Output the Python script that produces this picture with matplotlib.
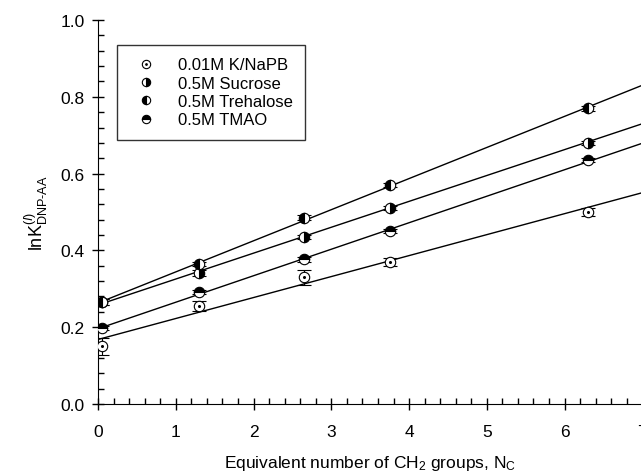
import numpy as np
import matplotlib
matplotlib.use("Agg")
import matplotlib.pyplot as plt
from matplotlib.ticker import MultipleLocator

plt.rcParams["font.family"] = ["Liberation Sans", "DejaVu Sans"]
plt.rcParams["mathtext.fontset"] = "custom"
plt.rcParams["mathtext.rm"] = "Liberation Sans"
plt.rcParams["mathtext.it"] = "Liberation Sans:italic"

# equivalent number of CH2 groups
nc = [0.05, 1.3, 2.65, 3.75, 6.3]

labels = ["0.01M K/NaPB", "0.5M Sucrose", "0.5M Trehalose", "0.5M TMAO"]
y_buffer = [0.150, 0.255, 0.330, 0.370, 0.500]
y_sucrose = [0.265, 0.340, 0.435, 0.510, 0.680]
y_trehalose = [0.265, 0.365, 0.485, 0.570, 0.770]
y_tmao = [0.198, 0.292, 0.377, 0.450, 0.635]

err_buffer = [0.022, 0.012, 0.020, 0.010, 0.010]
err_sucrose = [0.008, 0.008, 0.006, 0.006, 0.006]
err_trehalose = [0.008, 0.006, 0.006, 0.006, 0.006]
err_tmao = [0.006, 0.006, 0.006, 0.006, 0.006]

# fitted lines (intercept, slope)
fit_intercept = [0.168, 0.258, 0.263, 0.196]
fit_slope = [0.0546, 0.0674, 0.0810, 0.0690]

ys = [y_buffer, y_sucrose, y_trehalose, y_tmao]
errs = [err_buffer, err_sucrose, err_trehalose, err_tmao]
fills = ["none", "right", "left", "top"]

fig = plt.figure(figsize=(6.41, 4.77), dpi=100)
ax = fig.add_axes([0.153, 0.151, 0.849, 0.805])

xfit = np.linspace(0, 7, 50)
handles = []
for i in range(4):
    ax.plot(xfit, fit_intercept[i] + fit_slope[i] * xfit, color="black", lw=1.0, zorder=2)
    ax.errorbar(nc, ys[i], yerr=errs[i], fmt="none", ecolor="black", elinewidth=0.8,
                capsize=5, capthick=0.8, zorder=3)
    h, = ax.plot(nc, ys[i], ls="none", marker="o", ms=7.5, mec="black", mew=0.8,
                 mfc="black" if fills[i] != "none" else "white",
                 markerfacecoloralt="white", fillstyle=fills[i] if fills[i] != "none" else "full",
                 zorder=4)
    if fills[i] == "none":
        d, = ax.plot(nc, ys[i], ls="none", marker="o", ms=1.2, color="black", zorder=5)
        handles.append((h, d))
    else:
        handles.append(h)

ax.set_xlim(0, 7)
ax.set_ylim(0, 1.0)
ax.xaxis.set_major_locator(MultipleLocator(1))
ax.xaxis.set_minor_locator(MultipleLocator(0.2))
ax.yaxis.set_major_locator(MultipleLocator(0.2))
ax.yaxis.set_minor_locator(MultipleLocator(0.04))
ax.xaxis.set_major_formatter(matplotlib.ticker.FormatStrFormatter("%d"))
ax.yaxis.set_major_formatter(matplotlib.ticker.FormatStrFormatter("%.1f"))
ax.tick_params(which="major", direction="inout", length=9, width=1, labelsize=12.5)
ax.tick_params(axis="x", which="major", pad=10)
ax.tick_params(axis="y", which="major", pad=5)
ax.tick_params(which="minor", direction="in", length=4, width=1)
ax.tick_params(top=False, right=False, which="both")
for s in ["top", "right"]:
    ax.spines[s].set_visible(False)

ax.set_xlabel(r"Equivalent number of CH$_2$ groups, N$_\mathrm{C}$", fontsize=12.5, labelpad=10)
ax.set_ylabel(r"lnK$^{(I)}_{\mathrm{DNP\text{-}AA}}$", fontsize=13, labelpad=8)

leg = ax.legend(handles, labels, loc="upper left", bbox_to_anchor=(0.035, 0.935),
                fontsize=12, frameon=True, fancybox=False, edgecolor="black",
                handlelength=2.0, handletextpad=0.9, borderpad=0.75, labelspacing=0.2,
                borderaxespad=0, markerscale=0.8)
leg.get_frame().set_linewidth(1.0)

fig.savefig("out.png", dpi=100)
